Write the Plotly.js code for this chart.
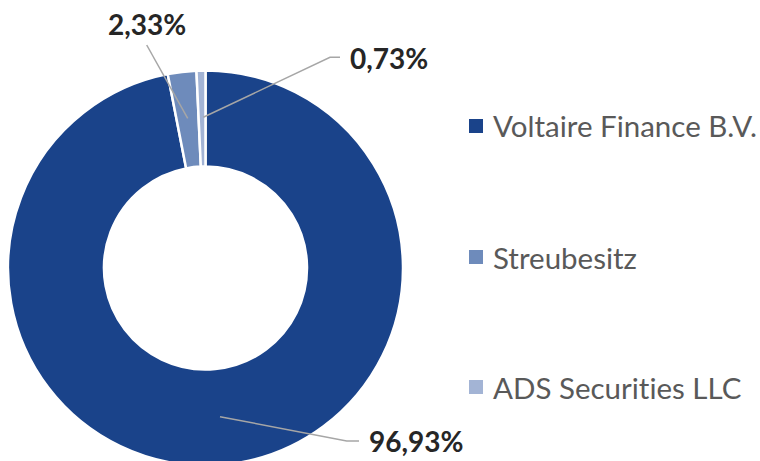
<!DOCTYPE html>
<html>
<head>
<meta charset="utf-8">
<script src="https://cdn.plot.ly/plotly-3.0.1.min.js"></script>
<style>
html, body { margin:0; padding:0; background:#fff; overflow:hidden; }
#wrap { width:760px; height:461px; overflow:hidden; position:relative; }
#chart { width:760px; height:480px; }
svg text { font-variant-ligatures: none; font-feature-settings: "liga" 0, "clig" 0; }
</style>
</head>
<body>
<div id="wrap"><div id="chart"></div></div>
<script>
// Data
const labels = ["Voltaire Finance B.V.", "Streubesitz", "ADS Securities LLC"];
const shares = [96.93, 2.33, 0.73];
const valueLabels = ["96,93%", "2,33%", "0,73%"];
const colors = ["#1a438a", "#6e8bbb", "#a3b4d5"];

const W = 760, H = 480;
const px = x => x / W;
const py = y => 1 - y / H;

const trace = {
  type: "pie",
  values: shares,
  labels: labels,
  sort: false,
  direction: "clockwise",
  rotation: 0,
  hole: 0.514,
  textinfo: "none",
  hoverinfo: "none",
  showlegend: false,
  marker: { colors: colors, line: { color: "#ffffff", width: 2.5 } },
  domain: { x: [px(8), px(403)], y: [py(465.5), py(70.5)] }
};

// Leader lines (gray)
const leaders = [
  [[220, 416.7], [346.7, 441], [359, 441]],
  [[187.7, 118.3], [146.7, 45]],
  [[203.3, 117.3], [330, 57.3], [340, 57.3]]
];
const labelPos = [[367, 441], [146.5, 24], [348, 58]];
const labelAnchor = ["left", "center", "left"];

const shapes = leaders.map(pts => ({
  type: "path", xref: "paper", yref: "paper",
  path: pts.map((p, i) => (i ? "L" : "M") + px(p[0]) + "," + py(p[1])).join(" "),
  line: { color: "#a6a6a6", width: 1.5 }
}));

const annotations = valueLabels.map((t, i) => ({
  xref: "paper", yref: "paper",
  x: px(labelPos[i][0]), y: py(labelPos[i][1]),
  xanchor: labelAnchor[i], yanchor: "middle",
  text: "<b>" + t + "</b>", showarrow: false,
  font: { family: "Lato", size: 28, color: "#262626" }
}));

// Legend drawn manually
const legendY = [126, 257, 387];
labels.forEach((l, i) => {
  shapes.push({
    type: "rect", xref: "paper", yref: "paper",
    x0: px(469), x1: px(483), y0: py(legendY[i] - 7), y1: py(legendY[i] + 7),
    fillcolor: colors[i], line: { width: 0 }
  });
  annotations.push({
    xref: "paper", yref: "paper",
    x: px(491), y: py(legendY[i]), xanchor: "left", yanchor: "middle",
    text: l, showarrow: false,
    font: { family: "Lato", size: 29.5, color: "#595959" }
  });
});

const layout = {
  width: W, height: H,
  margin: { l: 0, r: 0, t: 0, b: 0 },
  paper_bgcolor: "#ffffff",
  shapes: shapes,
  annotations: annotations,
  showlegend: false
};

Plotly.newPlot("chart", [trace], layout, { displayModeBar: false, staticPlot: true });
</script>
</body>
</html>
